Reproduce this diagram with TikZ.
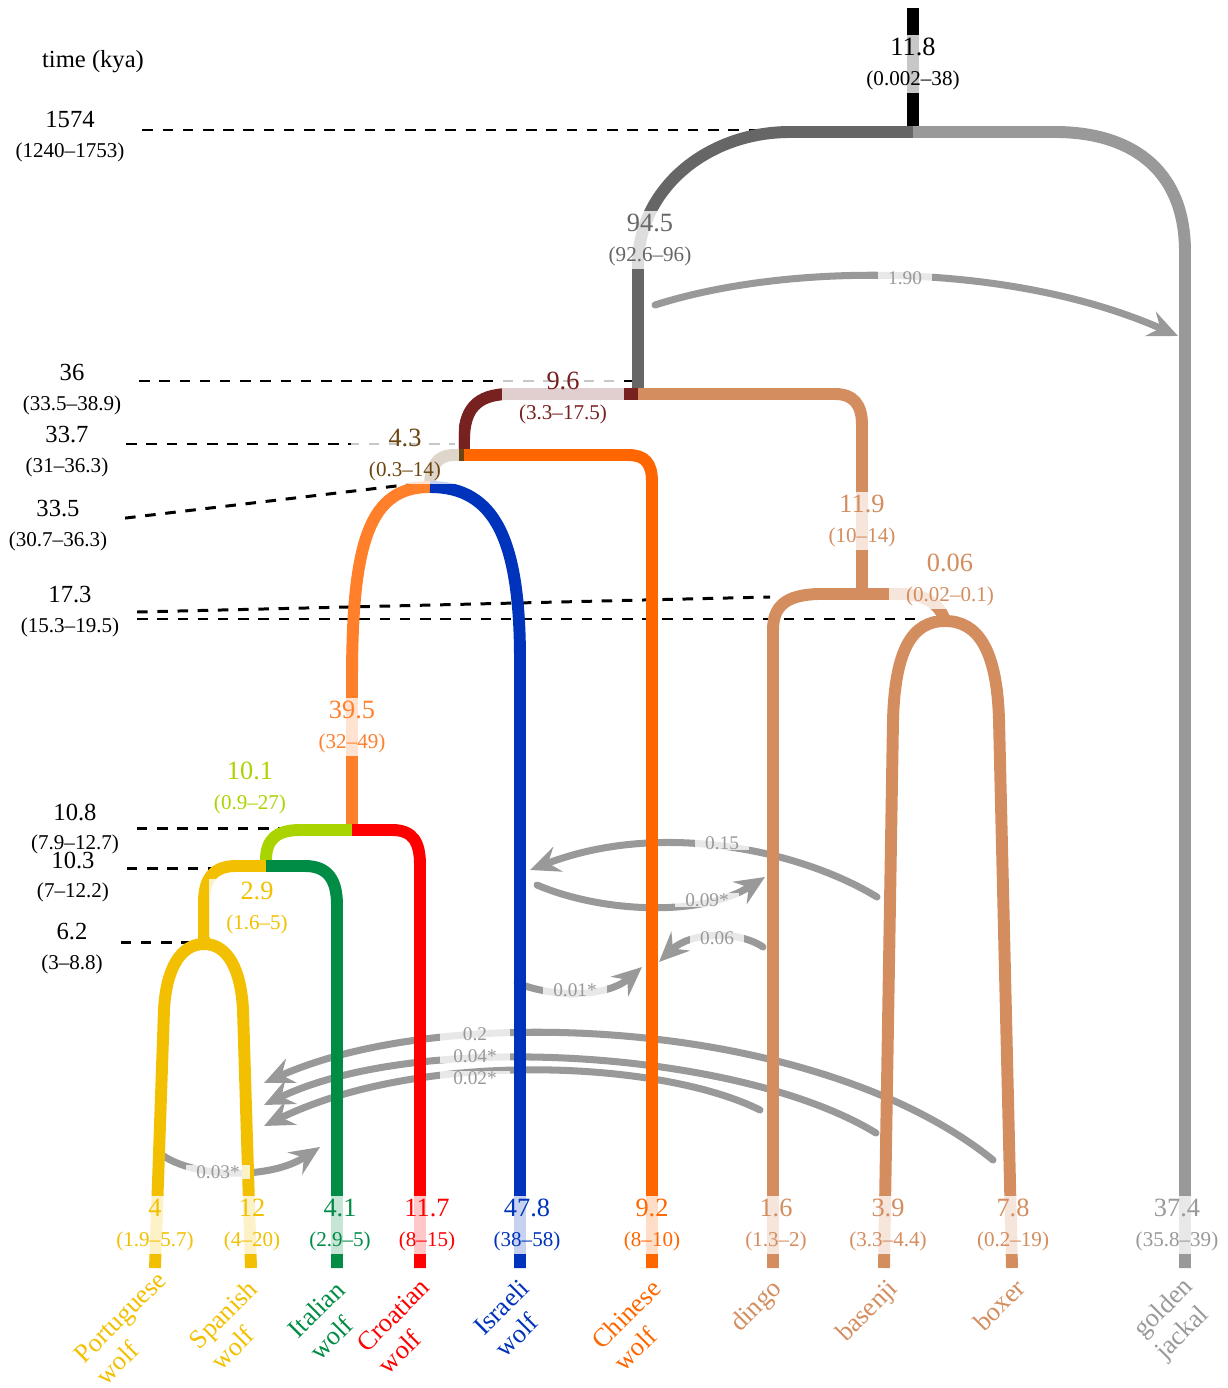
\documentclass[tikz,border=0pt]{standalone}
\usepackage{fontspec}
\setmainfont{Liberation Serif}
\usetikzlibrary{arrows.meta}

\definecolor{jackal}{HTML}{999999}
\definecolor{canid}{HTML}{666666}
\definecolor{wolfanc}{HTML}{782121}
\definecolor{eurasian}{HTML}{6B4510}
\definecolor{chinese}{HTML}{FF6600}
\definecolor{westanc}{HTML}{FF7F2A}
\definecolor{israeli}{HTML}{0033BB}
\definecolor{dog}{HTML}{D38D5F}
\definecolor{europe}{HTML}{AAD400}
\definecolor{iberian}{HTML}{F2C000}
\definecolor{italian}{HTML}{008C45}
\definecolor{croatian}{HTML}{FF0000}
\definecolor{gene}{HTML}{999999}

\newcommand{\valci}[3][15]{{\fontsize{#1}{17}\selectfont #2}\\#3}

\begin{document}
\begin{tikzpicture}[x=0.02cm, y=-0.02cm,
    branch/.style={line width=6.8pt},
    timeline/.style={black, line width=1.7pt, dash pattern=on 6pt off 5.5pt},
    flow/.style={gene, line width=4pt, line cap=round, -{Stealth[length=17pt,width=15pt,inset=6pt]}},
    est/.style={fill=white, fill opacity=.78, text opacity=1, inner xsep=10pt, inner ysep=2pt, align=center, font=\fontsize{12}{17}\selectfont},
    flowlab/.style={fill=white, fill opacity=.78, text opacity=1, inner xsep=6pt, inner ysep=0pt, text=gene, font=\fontsize{11}{11}\selectfont},
    timelab/.style={align=center, inner ysep=0pt, inner xsep=10pt, font=\fontsize{12}{17}\selectfont},
    taxon/.style={rotate=45, align=left, inner sep=1pt, font=\fontsize{15}{17.5}\selectfont}]
    \useasboundingbox (0,0) rectangle (1227,1388);

    % time axis
    \node[font=\fontsize{14}{17}\selectfont] (kya) at (93,62) {time (kya)};
    \node[timelab] (t1574) at (70,137) {\valci[14]{1574}{(1240--1753)}};
    \node[timelab] (t36) at (72,390) {\valci[14]{36}{(33.5--38.9)}};
    \node[timelab] (t337) at (67,452) {\valci[14]{33.7}{(31--36.3)}};
    \node[timelab] (t335) at (58,526) {\valci[14]{33.5}{(30.7--36.3)}};
    \node[timelab] (t173) at (70,612) {\valci[14]{17.3}{(15.3--19.5)}};
    \node[timelab] (t108) at (75,829) {\valci[14]{10.8}{(7.9--12.7)}};
    \node[timelab] (t103) at (73,877) {\valci[14]{10.3}{(7--12.2)}};
    \node[timelab] (t62) at (72,949) {\valci[14]{6.2}{(3--8.8)}};

    \coordinate (e1574) at (770,130);
    \coordinate (e36) at (632,381);
    \coordinate (e337) at (455,444);
    \coordinate (e335) at (430,482);
    \coordinate (e173a) at (770,597);
    \coordinate (e173b) at (920,619);
    \coordinate (e108) at (300,828);
    \coordinate (e103) at (255,868);
    \coordinate (e62) at (195,942);

    \draw[timeline] (t1574.east |- e1574) -- (e1574);
    \draw[timeline] (t36.east |- e36) -- (e36);
    \draw[timeline] (t337.east |- e337) -- (e337);
    \draw[timeline] ([yshift=4.5pt]t335.east) -- (e335);
    \draw[timeline] (t173.east) -- (e173a);
    \draw[timeline] (t173.east |- e173b) -- (e173b);
    \draw[timeline] (t108.east |- e108) -- (e108);
    \draw[timeline] (t103.east |- e103) -- (e103);
    \draw[timeline] (t62.east |- e62) -- (e62);

    % gene flow
    \draw[flow] (655,305) .. controls (790,262) and (1010,262) .. (1178,336);
    \draw[flow] (877,897) .. controls (800,850) and (660,820) .. (530,870);
    \draw[flow] (537,885) .. controls (600,912) and (700,918) .. (765,877);
    \draw[flow] (763,947) .. controls (738,930) and (690,932) .. (659,962);
    \draw[flow] (517,983) .. controls (560,1000) and (610,995) .. (642,967);
    \draw[flow] (993,1160) .. controls (820,1020) and (450,1000) .. (264,1083);
    \draw[flow] (876,1133) .. controls (740,1050) and (420,1030) .. (264,1105);
    \draw[flow] (760,1110) .. controls (660,1060) and (420,1050) .. (264,1126);
    \draw[flow] (162,1155) .. controls (195,1178) and (270,1180) .. (320,1147);

    % tree
    \coordinate (top) at (913,8);
    \coordinate (root) at (913,132);
    \coordinate (nwolf) at (638,394);
    \coordinate (neur) at (464,455);
    \coordinate (nwest) at (430,487);
    \coordinate (nital) at (352,830);
    \coordinate (niber) at (266,866);
    \coordinate (npt) at (204,944);
    \coordinate (ndog) at (862,594);
    \coordinate (nbb) at (945,621);
    \coordinate (lpt) at (155,1268);
    \coordinate (les) at (251,1268);
    \coordinate (lit) at (337,1268);
    \coordinate (lhr) at (420,1268);
    \coordinate (lil) at (520,1268);
    \coordinate (lcn) at (652,1268);
    \coordinate (ldi) at (773,1268);
    \coordinate (lba) at (884,1268);
    \coordinate (lbo) at (1012,1268);
    \coordinate (lgj) at (1185,1268);

    \draw[branch, black] (top) -- (root);
    \draw[branch, canid] (root) -- (790,132) .. controls (706,132) and (638,190) .. (638,265) -- (nwolf);
    \draw[branch, jackal] (root) -- (1055,132) .. controls (1127,132) and (1185,166) .. (1185,252) -- (lgj);
    \draw[branch, wolfanc] (nwolf) -- (510,394) .. controls (476,394) and (464,410) .. (464,440) -- (neur);
    \draw[branch, dog] (nwolf) -- (835,394) .. controls (853,394) and (862,404) .. (862,425) -- (ndog);
    \draw[branch, eurasian] (neur) -- (452,455) .. controls (437,456) and (430,466) .. (nwest);
    \draw[branch, chinese] (neur) -- (628,455) .. controls (645,455) and (652,463) .. (652,482) -- (lcn);
    \draw[branch, westanc] (nwest) .. controls (370,487) and (352,540) .. (352,680) -- (nital);
    \draw[branch, israeli] (nwest) .. controls (495,487) and (520,540) .. (520,660) -- (lil);
    \draw[branch, europe] (nital) -- (300,830) .. controls (276,830) and (266,840) .. (266,860) -- (niber);
    \draw[branch, croatian] (nital) -- (392,830) .. controls (413,830) and (420,842) .. (420,865) -- (lhr);
    \draw[branch, iberian] (niber) -- (236,866) .. controls (214,866) and (204,878) .. (204,902) -- (npt);
    \draw[branch, italian] (niber) -- (305,866) .. controls (328,866) and (337,880) .. (337,905) -- (lit);
    \draw[branch, iberian] (npt) .. controls (180,944) and (166,970) .. (164,1010) -- (lpt);
    \draw[branch, iberian] (npt) .. controls (228,944) and (241,970) .. (243,1010) -- (les);
    \draw[branch, dog] (ndog) -- (818,594) .. controls (786,595) and (773,606) .. (773,630) -- (ldi);
    \draw[branch, dog] (ndog) -- (900,594) .. controls (925,594) and (940,604) .. (nbb);
    \draw[branch, dog] (nbb) .. controls (912,621) and (895,650) .. (893,720) -- (lba);
    \draw[branch, dog] (nbb) .. controls (978,621) and (997,650) .. (999,720) -- (lbo);

    % estimates
    \node[est, text=black] (v118) at (913,64) {\valci{11.8}{(0.002--38)}};
    \node[est, text=canid] (v945) at (650,240) {\valci{94.5}{(92.6--96)}};
    \node[est, text=wolfanc] (v96) at (563,398) {\valci{9.6}{(3.3--17.5)}};
    \node[est, text=eurasian] (v43) at (405,455) {\valci{4.3}{(0.3--14)}};
    \node[est, text=dog] (v119) at (862,521) {\valci{11.9}{(10--14)}};
    \node[est, text=dog] (v006) at (950,580) {\valci{0.06}{(0.02--0.1)}};
    \node[est, text=westanc] (v395) at (352,727) {\valci{39.5}{(32--49)}};
    \node[est, text=europe] (v101) at (250,788) {\valci{10.1}{(0.9--27)}};
    \node[est, text=iberian] (v29) at (257,908) {\valci{2.9}{(1.6--5)}};
    \node[est, text=iberian] (vpt) at (155,1225) {\valci{4}{(1.9--5.7)}};
    \node[est, text=iberian] (ves) at (252,1225) {\valci{12}{(4--20)}};
    \node[est, text=italian] (vit) at (340,1225) {\valci{4.1}{(2.9--5)}};
    \node[est, text=croatian] (vhr) at (427,1225) {\valci{11.7}{(8--15)}};
    \node[est, text=israeli] (vil) at (527,1225) {\valci{47.8}{(38--58)}};
    \node[est, text=chinese] (vcn) at (652,1225) {\valci{9.2}{(8--10)}};
    \node[est, text=dog] (vdi) at (776,1225) {\valci{1.6}{(1.3--2)}};
    \node[est, text=dog] (vba) at (888,1225) {\valci{3.9}{(3.3--4.4)}};
    \node[est, text=dog] (vbo) at (1013,1225) {\valci{7.8}{(0.2--19)}};
    \node[est, text=jackal] (vgj) at (1177,1225) {\valci{37.4}{(35.8--39)}};

    \node[flowlab] (m190) at (905,278) {1.90};
    \node[flowlab] (m015) at (722,843) {0.15};
    \node[flowlab] (m009) at (707,900) {0.09*};
    \node[flowlab] (m006) at (717,938) {0.06};
    \node[flowlab] (m001) at (575,990) {0.01*};
    \node[flowlab, minimum width=40pt] (m02) at (475,1034) {0.2};
    \node[flowlab, minimum width=40pt] (m004) at (475,1056) {0.04*};
    \node[flowlab, minimum width=40pt] (m002) at (475,1078) {0.02*};
    \node[flowlab] (m003) at (218,1172) {0.03*};

    % taxa
    \node[taxon, text=iberian] (tpt) at (131,1328) {Portuguese\\wolf};
    \node[taxon, text=iberian] (tes) at (234,1325) {Spanish\\wolf};
    \node[taxon, text=italian] (tit) at (327,1320) {Italian\\wolf};
    \node[taxon, text=croatian] (thr) at (404,1326) {Croatian\\wolf};
    \node[taxon, text=israeli] (til) at (512,1318) {Israeli\\wolf};
    \node[taxon, text=chinese] (tcn) at (637,1325) {Chinese\\wolf};
    \node[taxon, text=dog] (tdi) at (757,1307) {dingo};
    \node[taxon, text=dog] (tba) at (868,1312) {basenji};
    \node[taxon, text=dog] (tbo) at (999,1305) {boxer};
    \node[taxon, text=jackal] (tgj) at (1175,1320) {golden\\jackal};
\end{tikzpicture}
\end{document}
